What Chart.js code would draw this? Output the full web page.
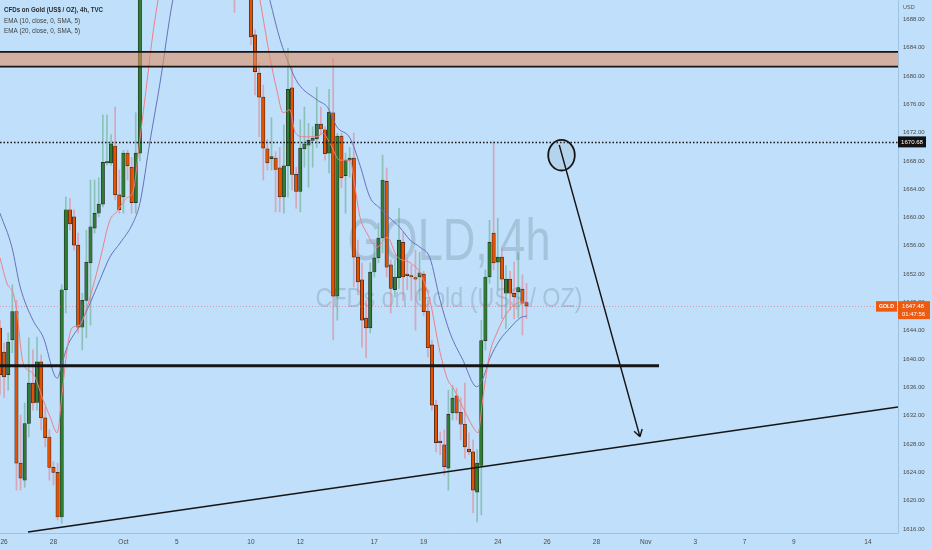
<!DOCTYPE html>
<html>
<head>
<meta charset="utf-8">
<script src="https://cdn.jsdelivr.net/npm/chart.js@4.4.1/dist/chart.umd.min.js"></script>
<style>
  html, body { margin: 0; padding: 0; background: #bfdffa; }
  #wrap { width: 932px; height: 550px; }
  canvas { display: block; }
</style>
</head>
<body>
<div id="wrap"><canvas id="goldChart" width="932" height="550"></canvas></div>
<script>
// --- data: 4h candles, bar 0 = 26 Sep ---
const opens = [
  1644.4, 1641.0, 1637.8, 1642.7, 1646.7, 1625.3, 1622.9, 1630.9, 1636.6, 1633.9,
  1639.6, 1631.7, 1629.0, 1624.7, 1624.0, 1617.7, 1649.8, 1661.1, 1660.1, 1656.1,
  1644.5, 1648.3, 1653.6, 1658.5, 1660.6, 1661.9, 1667.7, 1667.7, 1670.1, 1663.2,
  1662.9, 1669.1, 1667.1, 1662.1, 1669.1, 1698, 1708, 1715, 1722, 1724,
  1719, 1721, 1715, 1712, 1716, 1712, 1715, 1713, 1711, 1714,
  1710, 1713, 1712, 1714, 1712, 1708, 1710, 1702, 1694, 1696,
  1695, 1693.0, 1685.8, 1680.4, 1677.0, 1669.7, 1668.3, 1668.4, 1667.0, 1662.9,
  1667.3, 1678.3, 1666.1, 1663.7, 1669.7, 1670.2, 1670.9, 1671.1, 1673.2, 1672.4,
  1669.1, 1674.8, 1648.9, 1671.5, 1665.9, 1668.1, 1668.4, 1654.4, 1651.2, 1645.8,
  1644.4, 1652.3, 1654.3, 1657.1, 1665.1, 1653.3, 1649.8, 1651.5, 1656.5, 1651.9,
  1651.7, 1651.5, 1651.6, 1652.0, 1646.8, 1642.0, 1633.5, 1628.4, 1627.9, 1624.6,
  1632.4, 1634.8, 1632.5, 1630.8, 1627.3, 1626.9, 1621.2, 1625.0, 1642.6, 1651.6,
  1657.8, 1653.7, 1654.4, 1649.3, 1651.3, 1649.3, 1649.5, 1649.9, 1648.0
];
const highs = [
  1645.5, 1642.3, 1643.7, 1650.5, 1648.3, 1632.1, 1633.8, 1643.0, 1641.3, 1643.1,
  1640.6, 1633.2, 1630.0, 1625.5, 1625.3, 1650.5, 1662.9, 1662.7, 1661.1, 1657.8,
  1649.3, 1658.2, 1665.3, 1665.3, 1665.6, 1674.5, 1674.5, 1671.7, 1675.6, 1666.7,
  1669.5, 1669.5, 1668.5, 1674.8, 1702, 1712, 1718, 1725, 1729, 1726,
  1724, 1725, 1720, 1718, 1722, 1716, 1719, 1717, 1716, 1718,
  1715, 1716, 1716, 1718, 1715, 1712, 1712, 1704, 1698, 1699,
  1697, 1694.0, 1686.5, 1681.8, 1678.7, 1671.0, 1674.1, 1669.3, 1669.9, 1673.1,
  1683.9, 1681.3, 1667.1, 1673.8, 1675.6, 1673.3, 1672.8, 1678.4, 1675.6, 1672.8,
  1678.1, 1682.5, 1671.9, 1671.9, 1669.1, 1669.9, 1671.9, 1656.8, 1653.6, 1648.3,
  1653.6, 1656.4, 1659.2, 1668.8, 1667.0, 1654.0, 1654.0, 1661.3, 1657.9, 1654.3,
  1653.3, 1655.4, 1655.1, 1652.4, 1648.3, 1642.7, 1634.2, 1629.7, 1630.0, 1635.6,
  1636.3, 1635.9, 1634.5, 1636.6, 1629.6, 1628.6, 1627.2, 1645.5, 1652.6, 1659.6,
  1670.68, 1659.9, 1655.7, 1653.2, 1652.4, 1653.7, 1655.0, 1651.9, 1650.7
];
const lows = [
  1635.0, 1634.6, 1635.6, 1640.9, 1621.5, 1621.5, 1621.9, 1629.0, 1632.8, 1632.8,
  1630.0, 1627.6, 1622.9, 1622.2, 1617.3, 1616.8, 1646.5, 1658.2, 1655.4, 1643.7,
  1641.3, 1643.0, 1644.8, 1657.8, 1660.1, 1661.5, 1667.4, 1667.4, 1662.5, 1660.6,
  1660.6, 1665.3, 1660.6, 1660.6, 1668.0, 1696, 1704, 1712, 1718, 1716,
  1714, 1712, 1708, 1706, 1710, 1705, 1710, 1708, 1706, 1709,
  1705, 1708, 1709, 1710, 1706, 1703, 1700, 1689, 1692, 1693,
  1692, 1684.4, 1677.3, 1671.4, 1665.3, 1666.7, 1666.7, 1660.8, 1660.8, 1660.6,
  1662.9, 1663.9, 1661.3, 1660.8, 1667.1, 1664.3, 1667.1, 1669.9, 1671.7, 1668.1,
  1666.3, 1642.7, 1645.5, 1664.2, 1660.6, 1665.7, 1650.2, 1649.1, 1641.7, 1640.2,
  1643.7, 1651.6, 1653.6, 1655.0, 1651.6, 1646.5, 1648.8, 1650.0, 1648.3, 1649.8,
  1648.3, 1644.1, 1648.3, 1646.1, 1640.3, 1632.8, 1626.9, 1626.5, 1623.6, 1621.5,
  1631.4, 1631.4, 1628.6, 1626.0, 1626.5, 1618.3, 1617.0, 1618.0, 1641.3, 1650.7,
  1652.6, 1649.8, 1645.7, 1644.3, 1646.9, 1645.7, 1645.9, 1643.4, 1645.7
];
const closes = [
  1637.8, 1637.5, 1642.4, 1646.7, 1625.3, 1623.2, 1630.9, 1636.6, 1633.8, 1639.6,
  1631.7, 1628.9, 1624.7, 1624.0, 1617.7, 1649.8, 1661.1, 1659.1, 1656.1, 1644.5,
  1648.3, 1653.7, 1658.7, 1660.6, 1661.9, 1667.8, 1667.8, 1670.4, 1663.2, 1661.1,
  1669.1, 1667.3, 1662.1, 1669.1, 1698, 1708, 1715, 1722, 1724, 1719,
  1721, 1715, 1712, 1716, 1712, 1715, 1713, 1711, 1714, 1710,
  1713, 1712, 1714, 1712, 1708, 1710, 1702, 1694, 1696, 1695,
  1693, 1685.5, 1680.6, 1677.0, 1669.8, 1667.7, 1668.6, 1666.8, 1662.9, 1667.3,
  1678.1, 1666.1, 1663.7, 1669.8, 1670.4, 1670.9, 1671.2, 1673.2, 1672.5, 1669.0,
  1674.9, 1648.9, 1671.5, 1665.6, 1668.1, 1668.4, 1654.4, 1650.9, 1645.5, 1644.4,
  1652.3, 1654.3, 1657.1, 1665.3, 1653.0, 1650.0, 1651.6, 1656.8, 1651.6, 1651.8,
  1651.6, 1651.3, 1652.2, 1646.7, 1641.6, 1633.5, 1628.2, 1628.2, 1624.8, 1632.2,
  1634.5, 1632.4, 1630.8, 1627.6, 1626.9, 1621.5, 1625.3, 1642.6, 1651.6, 1656.5,
  1653.6, 1654.4, 1651.3, 1651.3, 1649.3, 1648.8, 1650.1, 1647.9, 1647.48
];

// EMA lines (bar position, price)
const ema10Bars = [0, 1.7, 3.2, 4.1, 5.6, 8, 10.5, 12.2, 13.9, 15.1, 16.3, 17.5, 19.4, 20.7, 22.6, 24.3, 26.7, 28.4, 30.9, 32.3, 34, 35.7, 37.2, 38.4, 40, 44, 48, 52, 56, 60, 63.2, 65.6, 67.3, 68.8, 70.5, 71.7, 73.7, 77.1, 78.5, 80.2, 82.6, 85.1, 86.3, 87.5, 89.2, 91.6, 94.1, 96.5, 99.7, 102.1, 104.5, 107, 108.9, 110.1, 112.5, 115, 116.2, 117.4, 119.1, 120.8, 123.2, 125.7, 128.1];
const ema10Vals = [1654.3, 1650.7, 1649.3, 1646.7, 1639.5, 1638.0, 1634.2, 1631.8, 1629.6, 1635.2, 1641.3, 1644.4, 1644.8, 1646.5, 1650.2, 1654.0, 1659.6, 1660.8, 1662.8, 1663.6, 1671.0, 1679.0, 1686.1, 1690.7, 1697, 1708, 1713, 1714, 1711, 1700, 1690.7, 1682.7, 1678.0, 1674.8, 1675.2, 1672.1, 1671.4, 1671.4, 1671.9, 1670.5, 1668.1, 1668.1, 1664.3, 1660.1, 1657.8, 1655.8, 1657.2, 1654.5, 1653.6, 1652.2, 1648.3, 1640.9, 1637.0, 1636.0, 1633.2, 1630.4, 1629.6, 1634.6, 1640.9, 1643.7, 1646.5, 1647.9, 1648.1];
const ema20Bars = [0, 2.9, 4.9, 8, 10.5, 13.9, 15.1, 16.3, 19.4, 21.9, 24.3, 26.7, 29.2, 32.3, 34, 36.5, 38.9, 42, 46, 50, 54, 58, 62, 65.6, 68.1, 70.5, 72.4, 77.1, 79.7, 81.9, 85.1, 87.5, 89.9, 92.4, 94.8, 97.2, 99.7, 102.1, 104.5, 107, 109.4, 112.5, 115.9, 117.2, 119.1, 121.5, 124, 126.4, 128.1];
const ema20Vals = [1660.6, 1655.8, 1650.2, 1645.5, 1643.1, 1637.3, 1639.4, 1641.7, 1644.8, 1647.9, 1651.2, 1654.4, 1656.4, 1659.2, 1662.0, 1670.9, 1679.0, 1690.7, 1700, 1706, 1708, 1706, 1699, 1690.7, 1685.1, 1681.3, 1679.0, 1676.6, 1675.5, 1672.8, 1671.2, 1667.4, 1662.9, 1661.3, 1659.9, 1658.6, 1656.8, 1655.8, 1654.3, 1648.3, 1643.7, 1639.9, 1636.1, 1637.0, 1640.1, 1642.7, 1644.4, 1645.8, 1646.1];

// axis ticks
const xTickBars = [1, 13, 30, 43, 61, 73, 91, 103, 121, 133, 145, 157, 169, 181, 193, 211];
const xTickLabels = ["26", "28", "Oct", "5", "10", "12", "17", "19", "24", "26", "28", "Nov", "3", "7", "9", "14"];
const yTickValues = [1616, 1620, 1624, 1628, 1632, 1636, 1640, 1644, 1648, 1652, 1656, 1660, 1664, 1668, 1672, 1676, 1680, 1684, 1688];

// drawings (bar position / price)
const zone = [1681.3, 1683.4];
const highLevel = 1670.68;
const supportLevel = 1639.05;
const supportEnd = 160.2;
const trendLine = [[6.8, 1615.58], [218.3, 1633.23]];
const arrowLine = [[135.95, 1670.24], [155.57, 1629.04]];
const circleMark = { bar: 136.5, price: 1668.8, rBars: 3.23, rPrice: 2.16 };
const lastPrice = 1647.48;
const legendLines = ["CFDs on Gold (US$ / OZ), 4h, TVC", "EMA (10, close, 0, SMA, 5)", "EMA (20, close, 0, SMA, 5)"];
const watermark = ["GOLD, 4h", "CFDs on Gold (US$ / OZ)"];

const bars = opens.map((_, i) => i);
const isUp = bars.map(i => closes[i] >= opens[i]);
const FONT = '"Liberation Sans", Arial, sans-serif';

function fitText(ctx, text, x, y, width, font, align) {
  ctx.font = font;
  const w = ctx.measureText(text).width;
  ctx.save();
  ctx.translate(x, y);
  ctx.scale(width / w, 1);
  ctx.textAlign = align || "left";
  ctx.fillText(text, 0, 0);
  ctx.restore();
}

// no label padding: plot fills the canvas up to the axes
function noPad(s) {
  s.paddingLeft = 0; s.paddingRight = 0; s.paddingTop = 0; s.paddingBottom = 0;
}

const drawings = {
  id: "drawings",
  beforeDatasetsDraw(chart) {
    const { ctx, chartArea: a } = chart;
    ctx.save();
    ctx.fillStyle = "rgba(90,110,130,0.25)";
    ctx.textBaseline = "alphabetic";
    const cx = (a.left + a.right) / 2;
    fitText(ctx, watermark[0], cx, 260, 203, "60px " + FONT, "center");
    fitText(ctx, watermark[1], cx, 307, 267, "28px " + FONT, "center");
    ctx.restore();
  },
  afterDatasetsDraw(chart) {
    const { ctx, chartArea: a, scales: { x, y } } = chart;
    ctx.save();
    ctx.beginPath();
    ctx.rect(a.left, a.top, a.width, a.height);
    ctx.clip();

    // last price line
    const ly = Math.round(y.getPixelForValue(lastPrice)) + 0.5;
    ctx.strokeStyle = "rgba(232,90,90,0.5)";
    ctx.lineWidth = 1;
    ctx.setLineDash([1, 2]);
    ctx.beginPath();
    ctx.moveTo(a.left, ly);
    ctx.lineTo(a.right, ly);
    ctx.stroke();

    // resistance zone
    const zt = y.getPixelForValue(zone[1]), zb = y.getPixelForValue(zone[0]);
    ctx.setLineDash([]);
    ctx.fillStyle = "rgba(224,144,102,0.6)";
    ctx.fillRect(a.left, zt, a.width, zb - zt);
    ctx.strokeStyle = "#151515";
    ctx.lineWidth = 1.8;
    ctx.beginPath();
    ctx.moveTo(a.left, zt); ctx.lineTo(a.right, zt);
    ctx.moveTo(a.left, zb); ctx.lineTo(a.right, zb);
    ctx.stroke();

    // dotted high line
    const hy = Math.round(y.getPixelForValue(highLevel)) + 0.5;
    ctx.setLineDash([1.5, 2]);
    ctx.lineWidth = 1.3;
    ctx.beginPath();
    ctx.moveTo(a.left, hy); ctx.lineTo(a.right, hy);
    ctx.stroke();
    ctx.setLineDash([]);

    // support line
    const sy = y.getPixelForValue(supportLevel);
    ctx.lineWidth = 3;
    ctx.beginPath();
    ctx.moveTo(x.getPixelForValue(0), sy);
    ctx.lineTo(x.getPixelForValue(supportEnd), sy);
    ctx.stroke();

    // trend line
    ctx.lineWidth = 1.5;
    ctx.beginPath();
    ctx.moveTo(x.getPixelForValue(trendLine[0][0]), y.getPixelForValue(trendLine[0][1]));
    ctx.lineTo(x.getPixelForValue(trendLine[1][0]), y.getPixelForValue(trendLine[1][1]));
    ctx.stroke();

    // circle
    const ccx = x.getPixelForValue(circleMark.bar), ccy = y.getPixelForValue(circleMark.price);
    const rx = x.getPixelForValue(circleMark.bar + circleMark.rBars) - ccx;
    const ry = y.getPixelForValue(circleMark.price - circleMark.rPrice) - ccy;
    ctx.beginPath();
    ctx.ellipse(ccx, ccy, rx, ry, 0, 0, Math.PI * 2);
    ctx.fillStyle = "rgba(110,130,150,0.12)";
    ctx.fill();
    ctx.lineWidth = 1.8;
    ctx.stroke();

    // arrow
    const ax0 = x.getPixelForValue(arrowLine[0][0]), ay0 = y.getPixelForValue(arrowLine[0][1]);
    const ax1 = x.getPixelForValue(arrowLine[1][0]), ay1 = y.getPixelForValue(arrowLine[1][1]);
    ctx.lineWidth = 1.4;
    ctx.beginPath();
    ctx.moveTo(ax0, ay0); ctx.lineTo(ax1, ay1);
    const ang = Math.atan2(ay1 - ay0, ax1 - ax0);
    for (const s of [-1, 1]) {
      ctx.moveTo(ax1, ay1);
      ctx.lineTo(ax1 - 8 * Math.cos(ang + s * 0.55), ay1 - 8 * Math.sin(ang + s * 0.55));
    }
    ctx.stroke();

    // symbol tag at the right edge
    const py = y.getPixelForValue(lastPrice);
    ctx.fillStyle = "#ee5a10";
    ctx.fillRect(a.right - 22, py - 5, 21, 10.5);
    ctx.fillStyle = "#ffffff";
    ctx.textBaseline = "middle";
    fitText(ctx, "GOLD", a.right - 11.5, py + 0.3, 15, "bold 6px " + FONT, "center");
    ctx.restore();
  },
  afterDraw(chart) {
    const { ctx, chartArea: a, scales: { y } } = chart;
    ctx.save();
    ctx.textBaseline = "middle";

    // legend
    ctx.fillStyle = "#2b2b2b";
    fitText(ctx, legendLines[0], 4, 10.5, 99, "bold 6.5px " + FONT);
    ctx.fillStyle = "#3e3e3e";
    fitText(ctx, legendLines[1], 4, 21, 76, "6.5px " + FONT);
    fitText(ctx, legendLines[2], 4, 31, 76, "6.5px " + FONT);

    // axis currency
    ctx.fillStyle = "#555";
    ctx.font = "5.5px " + FONT;
    ctx.fillText("USD", a.right + 5, 7);

    // high level label
    const hy = y.getPixelForValue(highLevel);
    ctx.fillStyle = "#111";
    ctx.fillRect(a.right, hy - 5.5, 28, 11);
    ctx.fillStyle = "#fff";
    fitText(ctx, highLevel.toFixed(2), a.right + 3, hy + 0.3, 22, "6px " + FONT);

    // last price label
    const py = y.getPixelForValue(lastPrice);
    ctx.fillStyle = "#ee5a10";
    ctx.fillRect(a.right, py - 5, 32, 18);
    ctx.fillStyle = "#fff";
    fitText(ctx, lastPrice.toFixed(2), a.right + 4, py, 22, "6px " + FONT);
    fitText(ctx, "01:47:56", a.right + 4, py + 8, 23, "6px " + FONT);
    ctx.restore();
  }
};

const ctx = document.getElementById("goldChart");
const chart = new Chart(ctx, {
  type: "bar",
  data: {
    datasets: [
      {
        type: "line",
        label: "EMA 10",
        data: ema10Bars.map((b, i) => ({ x: b, y: ema10Vals[i] })),
        borderColor: "#ee7f86",
        borderWidth: 1,
        pointRadius: 0,
        cubicInterpolationMode: "monotone",
        order: 0,
      },
      {
        type: "line",
        label: "EMA 20",
        data: ema20Bars.map((b, i) => ({ x: b, y: ema20Vals[i] })),
        borderColor: "#6a70b8",
        borderWidth: 1,
        pointRadius: 0,
        cubicInterpolationMode: "monotone",
        order: 0,
      },
      {
        label: "body",
        data: bars.map(i => ({ x: i, y: [opens[i], closes[i]] })),
        backgroundColor: bars.map(i => (isUp[i] ? "#2e7d32" : "#e65100")),
        borderColor: "#262626",
        borderWidth: 0.7,
        borderSkipped: false,
        barThickness: 3.4,
        minBarLength: 1.5,
        grouped: false,
        order: 1,
      },
      {
        label: "wick",
        data: bars.map(i => ({ x: i, y: [lows[i], highs[i]] })),
        backgroundColor: bars.map(i => (isUp[i] ? "rgba(60,150,90,0.4)" : "rgba(240,110,120,0.5)")),
        borderWidth: 0,
        barThickness: 1,
        grouped: false,
        order: 2,
      },
    ],
  },
  options: {
    responsive: false,
    animation: false,
    layout: { padding: 0 },
    plugins: { legend: { display: false }, tooltip: { enabled: false } },
    scales: {
      x: {
        type: "linear",
        min: 0,
        max: 218.3,
        offset: false,
        grid: { display: false, drawTicks: false },
        border: { display: true, color: "#9fc2de", width: 1 },
        afterBuildTicks: s => { s.ticks = xTickBars.map(v => ({ value: v })); },
        afterFit: s => { s.height = 17; noPad(s); },
        ticks: {
          autoSkip: false,
          maxRotation: 0,
          padding: 5,
          color: "#4a4a4a",
          font: { family: FONT, size: 6.5 },
          callback: (v, i) => xTickLabels[i],
        },
      },
      y: {
        position: "right",
        min: 1615.44,
        max: 1690.72,
        grid: { display: false, drawTicks: false },
        border: { display: true, color: "#9fc2de", width: 1 },
        afterBuildTicks: s => { s.ticks = yTickValues.map(v => ({ value: v })); },
        afterFit: s => { s.width = 34; noPad(s); },
        ticks: {
          padding: 5,
          color: "#4a4a4a",
          font: { family: FONT, size: 6 },
          callback: v => Number(v).toFixed(2),
        },
      },
    },
  },
  plugins: [drawings],
});
</script>
</body>
</html>
